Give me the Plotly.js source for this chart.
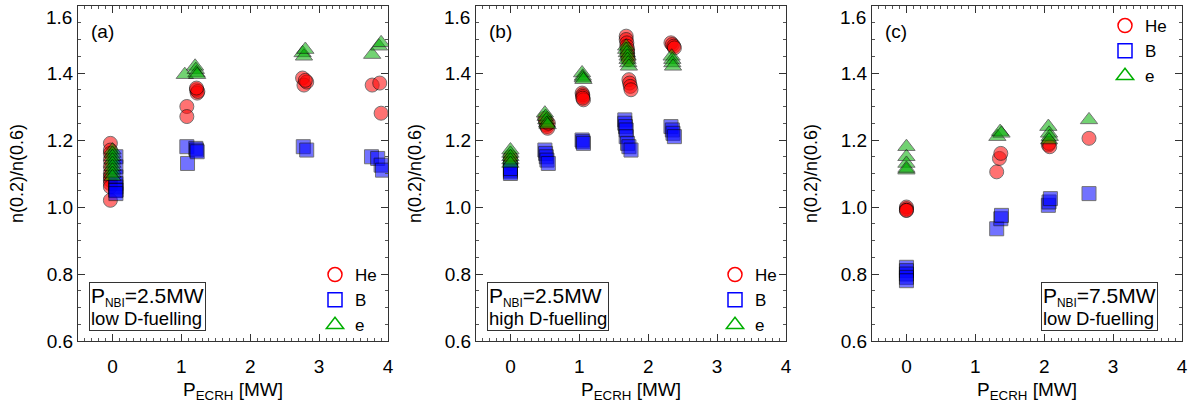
<!DOCTYPE html>
<html>
<head>
<meta charset="utf-8">
<script src="https://cdn.plot.ly/plotly-3.0.1.min.js"></script>
<style>html,body{margin:0;padding:0;background:#fff;}#chart{width:1199px;height:412px;}</style>
</head>
<body>
<div id="chart"></div>
<script>
// ---------- data ----------
// Panel (a): P_NBI=2.5MW, low D-fuelling
const aHeX = [-0.03,-0.03,-0.03,-0.03,-0.03,-0.03,-0.03,-0.03,-0.03,-0.03,-0.03, 1.08,1.08, 1.22,1.23,1.24,1.22, 2.76,2.78,2.82,2.80, 3.77,3.88,3.90];
const aHeY = [1.19,1.17,1.16,1.14,1.12,1.10,1.09,1.08,1.07,1.06,1.02, 1.30,1.27, 1.35,1.34,1.345,1.355, 1.385,1.364,1.373,1.378, 1.364,1.37,1.28];
const aBX  = [0.05,0.05,0.05,0.05,0.05,0.05,0.05,0.05, 1.08,1.09,1.21,1.22,1.23, 2.77,2.82, 3.76,3.85,3.90,3.92];
const aBY  = [1.15,1.12,1.09,1.07,1.06,1.05,1.05,1.04, 1.18,1.13,1.175,1.17,1.165, 1.18,1.17, 1.15,1.145,1.125,1.11];
const aEX  = [0,0,0,0,0,0,0,0,0, 1.05,1.20,1.21,1.22,1.23, 2.76,2.78,2.80, 3.77,3.87,3.90];
const aEY  = [1.17,1.16,1.15,1.14,1.13,1.12,1.11,1.10,1.09, 1.395,1.42,1.41,1.40,1.395, 1.46,1.45,1.47, 1.455,1.48,1.49];

// Panel (b): P_NBI=2.5MW, high D-fuelling
const bHeX = [0,0,0, 0.50,0.51,0.52,0.53,0.54,0.55, 1.04,1.05,1.05,1.06,1.05, 1.68,1.68,1.69,1.69,1.70,1.70,1.70,1.71, 1.72,1.73,1.74,1.75, 2.33,2.35,2.37,2.38];
const bHeY = [1.15,1.14,1.13, 1.265,1.255,1.245,1.24,1.235,1.25, 1.34,1.335,1.33,1.32,1.325, 1.51,1.50,1.49,1.48,1.47,1.46,1.45,1.44, 1.38,1.37,1.36,1.35, 1.49,1.485,1.48,1.475];
const bBX  = [0,0,0,0, 0.50,0.51,0.52,0.53,0.55, 1.04,1.05,1.06, 1.66,1.66,1.67,1.68, 1.68,1.70,1.72,1.75, 2.33,2.35,2.36,2.38];
const bBY  = [1.11,1.105,1.10,1.115, 1.17,1.16,1.15,1.14,1.13, 1.20,1.195,1.19, 1.26,1.25,1.24,1.23, 1.21,1.19,1.18,1.17, 1.24,1.23,1.22,1.21];
const bEX  = [0,0,0,0,0, 0.50,0.51,0.52,0.53,0.54, 1.04,1.05,1.05,1.06, 1.68,1.68,1.69,1.70,1.70,1.71,1.72, 2.34,2.35,2.35,2.36];
const bEY  = [1.17,1.16,1.15,1.14,1.13, 1.28,1.27,1.26,1.25,1.245, 1.40,1.39,1.385,1.38, 1.48,1.47,1.46,1.45,1.44,1.43,1.42, 1.45,1.44,1.43,1.42];

// Panel (c): P_NBI=7.5MW, low D-fuelling
const cHeX = [0,0,0,0, 1.31,1.35,1.37, 2.06,2.07,2.08, 2.65];
const cHeY = [1.00,0.995,0.99,0.99, 1.105,1.145,1.16, 1.185,1.19,1.18, 1.205];
const cBX  = [0,0,0,0,0, 1.31,1.37,1.38, 2.06,2.07,2.09, 2.65];
const cBY  = [0.82,0.81,0.80,0.79,0.78, 0.935,0.965,0.975, 1.005,1.015,1.025, 1.04];
const cEX  = [0,0,0,0,0, 1.32,1.36,1.38, 2.06,2.07,2.08,2.07, 2.65];
const cEY  = [1.18,1.15,1.13,1.11,1.115, 1.21,1.225,1.22, 1.24,1.22,1.21,1.20, 1.26];

const seriesNames = ['He','B','e'];
const panelLabels = ['(a)','(b)','(c)'];
const nbiText = ['2.5MW','2.5MW','7.5MW'];
const fuelText = ['low D-fuelling','high D-fuelling','low D-fuelling'];
const xTickVals = [0,1,2,3,4];
const yTickVals = [0.6,0.8,1.0,1.2,1.4];
const yTopTick = 1.6;

// ---------- styles ----------
const FONT = 'Liberation Sans, Arial, Helvetica, sans-serif';
const styles = {
  He: {symbol:'circle', color:'rgb(255,0,0)', size:14, open:'circle-open'},
  B:  {symbol:'square', color:'rgb(0,0,255)', size:14, open:'square-open'},
  e:  {symbol:'triangle-up', color:'rgb(0,175,0)', size:15, open:'triangle-up-open'}
};
const panels = [
  {xa:'x', ya:'y', leg:'legend', data:{He:[aHeX,aHeY], B:[aBX,aBY], e:[aEX,aEY]}},
  {xa:'x2', ya:'y2', leg:'legend2', data:{He:[bHeX,bHeY], B:[bBX,bBY], e:[bEX,bEY]}},
  {xa:'x3', ya:'y3', leg:'legend3', data:{He:[cHeX,cHeY], B:[cBX,cBY], e:[cEX,cEY]}}
];

const traces = [];
panels.forEach(p => {
  seriesNames.forEach(n => {
    const st = styles[n];
    traces.push({
      type:'scatter', mode:'markers', x:p.data[n][0], y:p.data[n][1],
      xaxis:p.xa, yaxis:p.ya, showlegend:false, hoverinfo:'skip',
      marker:{symbol:st.symbol, size:st.size, color:st.color, opacity:0.55,
              line:{color:'rgb(0,0,0)', width:1}}
    });
  });
  seriesNames.forEach(n => {
    const st = styles[n];
    traces.push({
      type:'scatter', mode:'markers', x:[null], y:[null], name:n,
      xaxis:p.xa, yaxis:p.ya, showlegend:true, legend:p.leg,
      marker:{symbol:st.open, size:st.size, color:st.color, line:{width:1.5}}
    });
  });
});

// ---------- layout ----------
const L = 78, R = 17, T = 6, B = 71, W = 1199, H = 412;
const PW = W - L - R, PH = H - T - B;
const panelPx = [[78,388],[476,786],[872,1182]];
const dom = panelPx.map(d => [(d[0]-L)/PW, (d[1]-L)/PW]);

function xaxis(i){
  return {
    domain: dom[i], range:[-0.5,4], anchor: i===0?'y':'y'+(i+1),
    tickvals:xTickVals, ticks:'inside', ticklen:7, tickwidth:1, tickcolor:'#333',
    minor:{dtick:0.1, ticks:'inside', ticklen:3, tickcolor:'#555', tickwidth:1},
    showline:true, linecolor:'#333', linewidth:1, mirror:'ticks',
    showgrid:false, zeroline:false, fixedrange:true, ticklabelstandoff:8,
    tickfont:{family:FONT, size:19, color:'#000'},
    title:{text:'P<sub>ECRH</sub> [MW]', font:{family:FONT, size:19, color:'#000'}, standoff:6}
  };
}
function yaxis(i){
  return {
    domain:[0,1], range:[0.6,1.6], anchor: i===0?'x':'x'+(i+1),
    tickvals:yTickVals, tickformat:'.1f', ticks:'inside', ticklen:7, tickwidth:1, tickcolor:'#333',
    minor:{dtick:0.05, ticks:'inside', ticklen:3, tickcolor:'#555', tickwidth:1},
    showline:true, linecolor:'#333', linewidth:1, mirror:'ticks',
    showgrid:false, zeroline:false, fixedrange:true,
    tickfont:{family:FONT, size:19, color:'#000'},
    title:{text:'n(0.2)/n(0.6)', font:{family:FONT, size:18, color:'#000'}, standoff:18}
  };
}
function legend(x, y){
  return {x:x, y:y, xanchor:'left', yanchor:'top', bgcolor:'rgba(0,0,0,0)',
          borderwidth:0, font:{family:FONT, size:17, color:'#000'},
          itemclick:false, itemdoubleclick:false, tracegroupgap:0};
}

const annotations = [];
const labelX = [0.036,0.036,0.036];
const boxX = [0.036,0.035,0.545];
panels.forEach((p,i) => {
  const xr = p.xa + ' domain', yr = p.ya + ' domain';
  annotations.push({xref:xr, yref:yr, x:labelX[i], y:0.925, xanchor:'left', yanchor:'middle',
    text:panelLabels[i], showarrow:false, font:{family:FONT, size:19, color:'#000'}});
  annotations.push({xref:xr, yref:yr, x:boxX[i], y:0.03, xanchor:'left', yanchor:'bottom',
    text:'<span style="font-size:21px">P</span><sub>NBI</sub><span style="font-size:21px">=' + nbiText[i] + '</span><br><span style="font-size:18.5px">' + fuelText[i] + '</span>',
    align:'left', showarrow:false, bgcolor:'#fff', bordercolor:'#333', borderwidth:1, borderpad:1,
    font:{family:FONT, size:17, color:'#000'}});
  // top y tick label (IDL places it just inside the frame)
  annotations.push({xref:xr, yref:p.ya, x:0, y:yTopTick, xanchor:'right', yanchor:'top', xshift:-4, yshift:1,
    text:yTopTick.toFixed(1), showarrow:false, font:{family:FONT, size:19, color:'#000'}});
});

const layout = {
  width:W, height:H, margin:{l:L, r:R, t:T, b:B, pad:0},
  paper_bgcolor:'#fff', plot_bgcolor:'#fff', showlegend:true,
  xaxis:xaxis(0), xaxis2:xaxis(1), xaxis3:xaxis(2),
  yaxis:yaxis(0), yaxis2:yaxis(1), yaxis3:yaxis(2),
  legend:legend((315-L)/PW, (H-B-257)/PH),
  legend2:legend((715-L)/PW, (H-B-257)/PH),
  legend3:legend((1105-L)/PW, (H-B-8)/PH),
  annotations:annotations
};

Plotly.newPlot('chart', traces, layout, {displayModeBar:false, staticPlot:true});
</script>
</body>
</html>
